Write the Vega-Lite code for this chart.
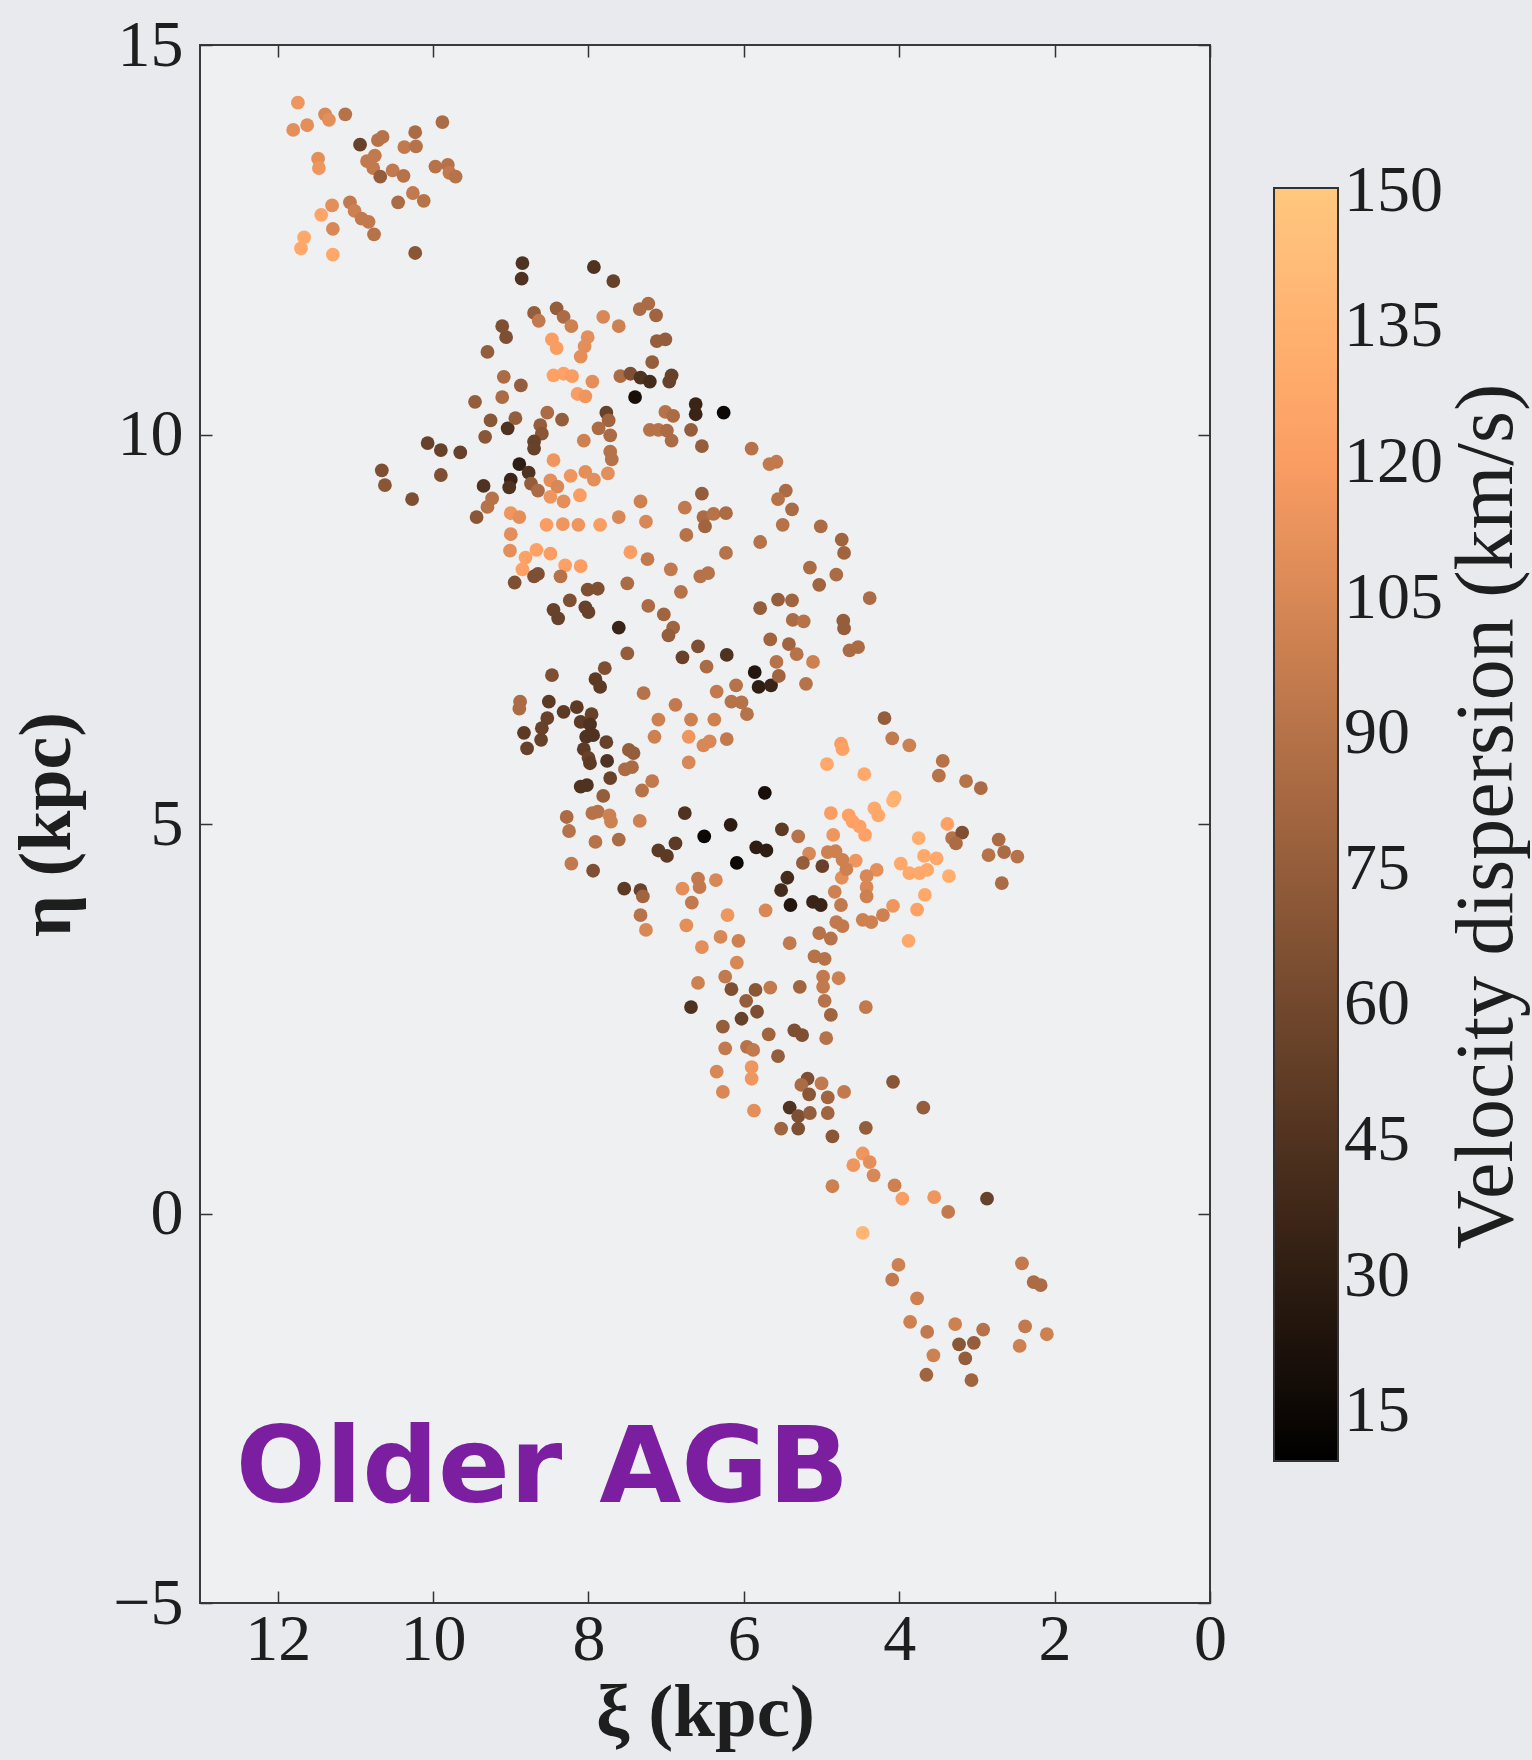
{
"$schema": "https://vega.github.io/schema/vega-lite/v6.json",
"autosize": {"type": "none"},
"padding": {"left": 200, "top": 45, "right": 322, "bottom": 157},
"width": 1010,
"height": 1558,
"background": "#e8eaed",
"config": {"view": {"fill": "#eef0f2", "stroke": "#3a3a3a", "strokeWidth": 2}, "font": "Liberation Serif"},
"datasets": {
"stars": [
{"xi":11.74,"eta":14.26,"sigma":115},{"xi":11.80,"eta":13.91,"sigma":110},{"xi":11.62,"eta":13.97,"sigma":110},{"xi":11.39,"eta":14.11,"sigma":105},{"xi":11.34,"eta":14.04,"sigma":110},{"xi":11.13,"eta":14.11,"sigma":90},{"xi":9.88,"eta":14.01,"sigma":85},{"xi":10.94,"eta":13.72,"sigma":55},{"xi":10.71,"eta":13.78,"sigma":90},{"xi":10.65,"eta":13.82,"sigma":90},{"xi":10.23,"eta":13.88,"sigma":85},{"xi":10.37,"eta":13.69,"sigma":95},{"xi":10.22,"eta":13.70,"sigma":90},{"xi":11.48,"eta":13.54,"sigma":110},{"xi":11.47,"eta":13.42,"sigma":115},{"xi":10.85,"eta":13.51,"sigma":95},{"xi":10.75,"eta":13.58,"sigma":95},{"xi":10.77,"eta":13.42,"sigma":95},{"xi":10.68,"eta":13.31,"sigma":75},{"xi":10.52,"eta":13.39,"sigma":95},{"xi":10.38,"eta":13.32,"sigma":90},{"xi":9.97,"eta":13.44,"sigma":90},{"xi":9.81,"eta":13.46,"sigma":90},{"xi":9.79,"eta":13.36,"sigma":95},{"xi":9.71,"eta":13.31,"sigma":90},{"xi":10.26,"eta":13.10,"sigma":95},{"xi":10.12,"eta":13.00,"sigma":90},{"xi":10.45,"eta":12.98,"sigma":85},{"xi":11.30,"eta":12.94,"sigma":110},{"xi":11.44,"eta":12.82,"sigma":125},{"xi":11.07,"eta":12.98,"sigma":95},{"xi":11.01,"eta":12.87,"sigma":100},{"xi":10.92,"eta":12.77,"sigma":95},{"xi":10.83,"eta":12.73,"sigma":95},{"xi":10.76,"eta":12.57,"sigma":90},{"xi":11.29,"eta":12.64,"sigma":105},{"xi":11.66,"eta":12.53,"sigma":128},{"xi":11.70,"eta":12.39,"sigma":128},{"xi":11.29,"eta":12.31,"sigma":128},{"xi":10.23,"eta":12.33,"sigma":70},
{"xi":8.85,"eta":12.20,"sigma":45},{"xi":8.86,"eta":12.00,"sigma":45},{"xi":7.93,"eta":12.15,"sigma":45},{"xi":7.68,"eta":11.97,"sigma":55},{"xi":8.70,"eta":11.56,"sigma":75},{"xi":8.64,"eta":11.46,"sigma":95},{"xi":8.41,"eta":11.62,"sigma":75},{"xi":8.32,"eta":11.51,"sigma":85},{"xi":8.22,"eta":11.39,"sigma":100},{"xi":7.81,"eta":11.51,"sigma":105},{"xi":7.61,"eta":11.39,"sigma":100},{"xi":9.11,"eta":11.39,"sigma":65},{"xi":9.06,"eta":11.25,"sigma":65},{"xi":9.30,"eta":11.06,"sigma":75},{"xi":8.47,"eta":11.22,"sigma":120},{"xi":8.41,"eta":11.11,"sigma":120},{"xi":8.01,"eta":11.25,"sigma":110},{"xi":8.05,"eta":11.13,"sigma":110},{"xi":8.10,"eta":11.00,"sigma":110},{"xi":8.45,"eta":10.76,"sigma":122},{"xi":8.32,"eta":10.78,"sigma":122},{"xi":8.21,"eta":10.75,"sigma":120},{"xi":7.95,"eta":10.68,"sigma":110},{"xi":8.14,"eta":10.52,"sigma":120},{"xi":8.04,"eta":10.49,"sigma":115},{"xi":7.59,"eta":10.75,"sigma":85},{"xi":9.09,"eta":10.74,"sigma":85},{"xi":8.87,"eta":10.63,"sigma":75},{"xi":9.11,"eta":10.48,"sigma":85},{"xi":9.46,"eta":10.42,"sigma":75},{"xi":9.26,"eta":10.18,"sigma":70},{"xi":9.04,"eta":10.08,"sigma":45},{"xi":8.94,"eta":10.21,"sigma":75},{"xi":9.33,"eta":9.97,"sigma":70},{"xi":8.53,"eta":10.28,"sigma":85},{"xi":8.34,"eta":10.19,"sigma":75},{"xi":8.62,"eta":10.12,"sigma":75},{"xi":8.60,"eta":10.01,"sigma":70},{"xi":8.70,"eta":9.91,"sigma":55},{"xi":8.70,"eta":9.82,"sigma":55},{"xi":7.77,"eta":10.28,"sigma":55},{"xi":7.74,"eta":10.18,"sigma":80},{"xi":7.87,"eta":10.08,"sigma":85},{"xi":7.72,"eta":9.99,"sigma":85},{"xi":8.06,"eta":9.92,"sigma":100},{"xi":10.07,"eta":9.89,"sigma":55},{"xi":9.90,"eta":9.80,"sigma":55},{"xi":9.65,"eta":9.77,"sigma":55},{"xi":10.66,"eta":9.54,"sigma":65},{"xi":10.62,"eta":9.35,"sigma":70},{"xi":9.90,"eta":9.48,"sigma":65},{"xi":10.27,"eta":9.17,"sigma":65},{"xi":8.89,"eta":9.62,"sigma":30},{"xi":9.00,"eta":9.42,"sigma":35},{"xi":9.02,"eta":9.32,"sigma":45},{"xi":8.77,"eta":9.51,"sigma":45},{"xi":8.74,"eta":9.37,"sigma":75},{"xi":8.65,"eta":9.28,"sigma":85},{"xi":9.35,"eta":9.34,"sigma":45},{"xi":9.24,"eta":9.18,"sigma":90},{"xi":9.30,"eta":9.07,"sigma":90},{"xi":9.44,"eta":8.94,"sigma":70},{"xi":8.45,"eta":9.67,"sigma":115},{"xi":8.49,"eta":9.41,"sigma":110},{"xi":8.40,"eta":9.33,"sigma":105},{"xi":8.49,"eta":9.20,"sigma":115},{"xi":8.32,"eta":9.14,"sigma":110},{"xi":8.23,"eta":9.47,"sigma":115},{"xi":8.04,"eta":9.52,"sigma":110},{"xi":7.93,"eta":9.42,"sigma":110},{"xi":7.75,"eta":9.50,"sigma":110},{"xi":8.11,"eta":9.22,"sigma":120},{"xi":9.00,"eta":8.99,"sigma":115},{"xi":8.89,"eta":8.94,"sigma":110},{"xi":8.54,"eta":8.84,"sigma":120},{"xi":8.33,"eta":8.85,"sigma":115},{"xi":8.13,"eta":8.84,"sigma":115},{"xi":7.85,"eta":8.84,"sigma":120},{"xi":7.61,"eta":8.94,"sigma":105},
{"xi":7.34,"eta":11.61,"sigma":85},{"xi":7.23,"eta":11.68,"sigma":85},{"xi":7.13,"eta":11.53,"sigma":80},{"xi":7.12,"eta":11.20,"sigma":75},{"xi":7.01,"eta":11.22,"sigma":75},{"xi":7.18,"eta":10.93,"sigma":75},{"xi":7.46,"eta":10.78,"sigma":65},{"xi":7.33,"eta":10.73,"sigma":45},{"xi":7.21,"eta":10.68,"sigma":40},{"xi":6.93,"eta":10.76,"sigma":55},{"xi":6.96,"eta":10.68,"sigma":55},{"xi":7.40,"eta":10.48,"sigma":20},{"xi":6.62,"eta":10.39,"sigma":35},{"xi":6.62,"eta":10.26,"sigma":35},{"xi":6.26,"eta":10.28,"sigma":15},{"xi":7.01,"eta":10.29,"sigma":90},{"xi":6.91,"eta":10.24,"sigma":85},{"xi":7.21,"eta":10.06,"sigma":90},{"xi":7.10,"eta":10.06,"sigma":90},{"xi":6.99,"eta":10.05,"sigma":85},{"xi":6.68,"eta":10.06,"sigma":75},{"xi":6.93,"eta":9.92,"sigma":85},{"xi":6.54,"eta":9.85,"sigma":75},{"xi":7.72,"eta":9.78,"sigma":90},{"xi":7.70,"eta":9.68,"sigma":90},{"xi":5.90,"eta":9.82,"sigma":90},{"xi":5.67,"eta":9.62,"sigma":95},{"xi":5.58,"eta":9.65,"sigma":95},{"xi":6.54,"eta":9.24,"sigma":75},{"xi":7.33,"eta":9.14,"sigma":100},{"xi":6.76,"eta":9.06,"sigma":95},{"xi":7.26,"eta":8.88,"sigma":105},{"xi":6.52,"eta":8.94,"sigma":85},{"xi":6.39,"eta":8.98,"sigma":90},{"xi":6.23,"eta":8.99,"sigma":85},{"xi":6.50,"eta":8.82,"sigma":80},{"xi":5.46,"eta":9.28,"sigma":85},{"xi":5.56,"eta":9.17,"sigma":90},{"xi":5.38,"eta":9.04,"sigma":85},{"xi":5.50,"eta":8.84,"sigma":90},{"xi":5.01,"eta":8.82,"sigma":85},
{"xi":9.00,"eta":8.72,"sigma":110},{"xi":9.01,"eta":8.51,"sigma":110},{"xi":8.81,"eta":8.42,"sigma":122},{"xi":8.67,"eta":8.52,"sigma":122},{"xi":8.85,"eta":8.27,"sigma":122},{"xi":8.49,"eta":8.47,"sigma":120},{"xi":8.30,"eta":8.32,"sigma":122},{"xi":8.10,"eta":8.31,"sigma":120},{"xi":8.36,"eta":8.18,"sigma":90},{"xi":8.95,"eta":8.10,"sigma":65},{"xi":8.70,"eta":8.18,"sigma":65},{"xi":8.65,"eta":8.21,"sigma":65},{"xi":8.01,"eta":8.01,"sigma":65},{"xi":7.88,"eta":8.02,"sigma":65},{"xi":8.24,"eta":7.87,"sigma":65},{"xi":8.45,"eta":7.75,"sigma":55},{"xi":8.39,"eta":7.64,"sigma":55},{"xi":8.04,"eta":7.78,"sigma":55},{"xi":8.00,"eta":7.72,"sigma":55},{"xi":7.50,"eta":8.09,"sigma":85},{"xi":7.46,"eta":8.49,"sigma":120},{"xi":7.24,"eta":8.40,"sigma":95},{"xi":6.94,"eta":8.27,"sigma":95},{"xi":6.74,"eta":8.71,"sigma":90},{"xi":6.56,"eta":8.18,"sigma":90},{"xi":6.46,"eta":8.22,"sigma":90},{"xi":6.81,"eta":7.98,"sigma":90},{"xi":7.61,"eta":7.52,"sigma":35},{"xi":7.23,"eta":7.80,"sigma":85},{"xi":7.03,"eta":7.69,"sigma":80},{"xi":6.91,"eta":7.52,"sigma":80},{"xi":6.97,"eta":7.42,"sigma":75},{"xi":6.59,"eta":7.28,"sigma":65},{"xi":6.79,"eta":7.14,"sigma":55},{"xi":6.48,"eta":7.02,"sigma":85},{"xi":7.50,"eta":7.19,"sigma":75},{"xi":7.79,"eta":7.00,"sigma":65},{"xi":7.91,"eta":6.86,"sigma":50},{"xi":7.85,"eta":6.76,"sigma":50},{"xi":8.47,"eta":6.91,"sigma":65},{"xi":7.29,"eta":6.68,"sigma":90},{"xi":6.88,"eta":6.53,"sigma":95},{"xi":6.35,"eta":6.70,"sigma":95},{"xi":8.88,"eta":6.57,"sigma":85},{"xi":8.89,"eta":6.48,"sigma":85},{"xi":8.51,"eta":6.57,"sigma":50},{"xi":8.32,"eta":6.44,"sigma":50},{"xi":8.15,"eta":6.50,"sigma":50},{"xi":8.53,"eta":6.36,"sigma":55},{"xi":8.60,"eta":6.23,"sigma":55},{"xi":8.83,"eta":6.17,"sigma":50},{"xi":8.79,"eta":5.97,"sigma":55},{"xi":8.61,"eta":6.08,"sigma":55},{"xi":8.10,"eta":6.31,"sigma":50},{"xi":7.96,"eta":6.41,"sigma":55},{"xi":7.98,"eta":6.28,"sigma":45},{"xi":8.03,"eta":6.12,"sigma":45},{"xi":7.94,"eta":6.14,"sigma":45},{"xi":7.77,"eta":6.05,"sigma":55},{"xi":8.06,"eta":5.96,"sigma":50},{"xi":8.00,"eta":5.85,"sigma":55},{"xi":7.98,"eta":5.78,"sigma":50},{"xi":7.76,"eta":5.81,"sigma":45},{"xi":7.48,"eta":5.95,"sigma":75},{"xi":7.42,"eta":5.91,"sigma":75},{"xi":7.53,"eta":5.70,"sigma":85},{"xi":7.44,"eta":5.73,"sigma":85},{"xi":7.72,"eta":5.59,"sigma":55},{"xi":8.10,"eta":5.48,"sigma":45},{"xi":8.02,"eta":5.50,"sigma":45},{"xi":7.81,"eta":5.36,"sigma":75},{"xi":7.31,"eta":5.43,"sigma":90},{"xi":7.18,"eta":5.55,"sigma":95},{"xi":7.10,"eta":6.34,"sigma":100},{"xi":7.15,"eta":6.12,"sigma":100},{"xi":6.68,"eta":6.34,"sigma":100},{"xi":6.71,"eta":6.12,"sigma":115},{"xi":6.38,"eta":6.34,"sigma":100},{"xi":6.52,"eta":6.01,"sigma":105},{"xi":6.44,"eta":6.06,"sigma":105},{"xi":6.71,"eta":5.79,"sigma":105},
{"xi":5.79,"eta":8.62,"sigma":90},{"xi":6.23,"eta":8.48,"sigma":90},{"xi":4.74,"eta":8.65,"sigma":80},{"xi":4.71,"eta":8.48,"sigma":80},{"xi":5.15,"eta":8.29,"sigma":85},{"xi":4.81,"eta":8.20,"sigma":85},{"xi":5.03,"eta":8.07,"sigma":80},{"xi":5.56,"eta":7.88,"sigma":75},{"xi":5.38,"eta":7.87,"sigma":80},{"xi":5.79,"eta":7.77,"sigma":75},{"xi":4.38,"eta":7.90,"sigma":85},{"xi":5.37,"eta":7.62,"sigma":85},{"xi":5.23,"eta":7.60,"sigma":90},{"xi":4.72,"eta":7.61,"sigma":75},{"xi":4.71,"eta":7.51,"sigma":75},{"xi":5.66,"eta":7.37,"sigma":80},{"xi":5.42,"eta":7.31,"sigma":80},{"xi":5.32,"eta":7.18,"sigma":90},{"xi":4.64,"eta":7.23,"sigma":85},{"xi":4.53,"eta":7.27,"sigma":85},{"xi":6.22,"eta":7.17,"sigma":45},{"xi":5.58,"eta":7.08,"sigma":90},{"xi":5.11,"eta":7.08,"sigma":100},{"xi":5.86,"eta":6.95,"sigma":25},{"xi":5.81,"eta":6.76,"sigma":30},{"xi":5.65,"eta":6.78,"sigma":35},{"xi":5.55,"eta":6.90,"sigma":80},{"xi":5.20,"eta":6.80,"sigma":90},{"xi":6.10,"eta":6.78,"sigma":90},{"xi":6.16,"eta":6.57,"sigma":90},{"xi":6.03,"eta":6.56,"sigma":90},{"xi":5.96,"eta":6.41,"sigma":90},{"xi":6.22,"eta":6.09,"sigma":95},{"xi":4.19,"eta":6.36,"sigma":75},{"xi":4.09,"eta":6.10,"sigma":95},{"xi":3.87,"eta":6.01,"sigma":100},{"xi":4.75,"eta":6.03,"sigma":120},{"xi":4.73,"eta":5.96,"sigma":122},{"xi":4.93,"eta":5.77,"sigma":128},{"xi":4.45,"eta":5.64,"sigma":128},{"xi":3.44,"eta":5.81,"sigma":90},{"xi":3.49,"eta":5.62,"sigma":90},{"xi":3.14,"eta":5.55,"sigma":90},{"xi":2.95,"eta":5.46,"sigma":85},{"xi":5.73,"eta":5.40,"sigma":20},{"xi":4.06,"eta":5.34,"sigma":132},
{"xi":8.28,"eta":5.09,"sigma":85},{"xi":8.25,"eta":4.91,"sigma":90},{"xi":7.95,"eta":5.14,"sigma":90},{"xi":7.88,"eta":5.16,"sigma":90},{"xi":7.73,"eta":5.11,"sigma":100},{"xi":7.71,"eta":5.03,"sigma":100},{"xi":7.34,"eta":5.04,"sigma":100},{"xi":7.91,"eta":4.77,"sigma":90},{"xi":7.61,"eta":4.80,"sigma":85},{"xi":8.22,"eta":4.49,"sigma":95},{"xi":7.94,"eta":4.40,"sigma":65},{"xi":6.76,"eta":5.14,"sigma":45},{"xi":7.10,"eta":4.66,"sigma":50},{"xi":6.99,"eta":4.59,"sigma":50},{"xi":6.88,"eta":4.75,"sigma":50},{"xi":6.51,"eta":4.84,"sigma":15},{"xi":6.17,"eta":4.99,"sigma":30},{"xi":6.09,"eta":4.50,"sigma":15},{"xi":5.84,"eta":4.70,"sigma":30},{"xi":5.71,"eta":4.66,"sigma":30},{"xi":7.54,"eta":4.17,"sigma":50},{"xi":7.33,"eta":4.15,"sigma":55},{"xi":7.30,"eta":4.07,"sigma":80},{"xi":7.33,"eta":3.83,"sigma":90},{"xi":7.26,"eta":3.64,"sigma":105},{"xi":6.79,"eta":4.17,"sigma":110},{"xi":6.59,"eta":4.30,"sigma":95},{"xi":6.57,"eta":4.19,"sigma":95},{"xi":6.36,"eta":4.28,"sigma":105},{"xi":6.67,"eta":3.99,"sigma":95},{"xi":6.74,"eta":3.70,"sigma":110},{"xi":6.21,"eta":3.83,"sigma":115},{"xi":5.72,"eta":3.89,"sigma":105},{"xi":6.30,"eta":3.55,"sigma":105},{"xi":6.07,"eta":3.50,"sigma":100},{"xi":6.54,"eta":3.42,"sigma":110},{"xi":6.09,"eta":3.22,"sigma":105},{"xi":6.24,"eta":3.04,"sigma":95},{"xi":6.16,"eta":2.88,"sigma":65},{"xi":6.59,"eta":2.96,"sigma":100},{"xi":6.68,"eta":2.65,"sigma":45},{"xi":5.97,"eta":2.73,"sigma":75},{"xi":5.85,"eta":2.87,"sigma":70},{"xi":5.66,"eta":2.90,"sigma":95},{"xi":5.83,"eta":2.59,"sigma":65},{"xi":6.03,"eta":2.50,"sigma":55},
{"xi":5.51,"eta":4.93,"sigma":50},{"xi":5.30,"eta":4.84,"sigma":90},{"xi":4.88,"eta":5.14,"sigma":120},{"xi":4.65,"eta":5.11,"sigma":122},{"xi":4.60,"eta":5.03,"sigma":122},{"xi":4.32,"eta":5.20,"sigma":128},{"xi":4.27,"eta":5.11,"sigma":128},{"xi":4.08,"eta":5.30,"sigma":136},{"xi":4.51,"eta":4.97,"sigma":122},{"xi":4.44,"eta":4.86,"sigma":122},{"xi":4.85,"eta":4.86,"sigma":115},{"xi":5.16,"eta":4.62,"sigma":105},{"xi":5.24,"eta":4.50,"sigma":75},{"xi":4.99,"eta":4.46,"sigma":55},{"xi":4.92,"eta":4.64,"sigma":100},{"xi":4.82,"eta":4.65,"sigma":100},{"xi":4.73,"eta":4.54,"sigma":100},{"xi":4.56,"eta":4.53,"sigma":115},{"xi":4.74,"eta":4.31,"sigma":110},{"xi":4.68,"eta":4.42,"sigma":100},{"xi":4.29,"eta":4.41,"sigma":110},{"xi":4.42,"eta":4.33,"sigma":105},{"xi":4.42,"eta":4.19,"sigma":105},{"xi":4.42,"eta":4.07,"sigma":100},{"xi":3.98,"eta":4.49,"sigma":128},{"xi":3.87,"eta":4.37,"sigma":128},{"xi":3.74,"eta":4.37,"sigma":128},{"xi":3.64,"eta":4.41,"sigma":128},{"xi":3.68,"eta":4.59,"sigma":128},{"xi":3.52,"eta":4.56,"sigma":128},{"xi":3.36,"eta":4.33,"sigma":132},{"xi":3.75,"eta":4.82,"sigma":132},{"xi":3.38,"eta":5.00,"sigma":122},{"xi":3.32,"eta":4.82,"sigma":90},{"xi":3.19,"eta":4.89,"sigma":65},{"xi":3.27,"eta":4.75,"sigma":85},{"xi":2.72,"eta":4.80,"sigma":85},{"xi":2.85,"eta":4.60,"sigma":90},{"xi":2.65,"eta":4.64,"sigma":85},{"xi":2.48,"eta":4.58,"sigma":90},{"xi":2.68,"eta":4.24,"sigma":85},{"xi":3.67,"eta":4.09,"sigma":128},{"xi":3.77,"eta":3.90,"sigma":122},{"xi":4.08,"eta":3.95,"sigma":115},{"xi":4.21,"eta":3.83,"sigma":100},{"xi":4.47,"eta":3.77,"sigma":100},{"xi":4.36,"eta":3.74,"sigma":100},{"xi":4.83,"eta":4.13,"sigma":100},{"xi":4.75,"eta":3.96,"sigma":95},{"xi":4.81,"eta":3.74,"sigma":95},{"xi":4.73,"eta":3.69,"sigma":95},{"xi":5.44,"eta":4.31,"sigma":40},{"xi":5.52,"eta":4.15,"sigma":40},{"xi":5.40,"eta":3.96,"sigma":25},{"xi":5.11,"eta":4.00,"sigma":35},{"xi":5.01,"eta":3.96,"sigma":35},{"xi":5.03,"eta":3.60,"sigma":90},{"xi":4.88,"eta":3.53,"sigma":90},{"xi":5.41,"eta":3.47,"sigma":95},{"xi":3.88,"eta":3.50,"sigma":128},{"xi":5.09,"eta":3.30,"sigma":90},{"xi":4.96,"eta":3.27,"sigma":90},{"xi":4.98,"eta":3.04,"sigma":95},{"xi":4.98,"eta":2.91,"sigma":95},{"xi":4.78,"eta":3.02,"sigma":100},{"xi":5.28,"eta":2.91,"sigma":80},{"xi":4.96,"eta":2.73,"sigma":90},{"xi":4.43,"eta":2.65,"sigma":95},{"xi":4.88,"eta":2.55,"sigma":80},
{"xi":6.27,"eta":2.40,"sigma":75},{"xi":5.68,"eta":2.30,"sigma":80},{"xi":5.35,"eta":2.35,"sigma":65},{"xi":5.25,"eta":2.29,"sigma":65},{"xi":4.94,"eta":2.25,"sigma":90},{"xi":6.24,"eta":2.12,"sigma":95},{"xi":5.96,"eta":2.14,"sigma":90},{"xi":5.88,"eta":2.10,"sigma":95},{"xi":5.56,"eta":2.02,"sigma":75},{"xi":6.35,"eta":1.82,"sigma":105},{"xi":5.90,"eta":1.88,"sigma":115},{"xi":5.90,"eta":1.73,"sigma":115},{"xi":6.27,"eta":1.56,"sigma":105},{"xi":5.87,"eta":1.32,"sigma":110},{"xi":5.18,"eta":1.73,"sigma":65},{"xi":5.26,"eta":1.65,"sigma":85},{"xi":5.16,"eta":1.53,"sigma":70},{"xi":5.00,"eta":1.67,"sigma":95},{"xi":4.92,"eta":1.49,"sigma":80},{"xi":4.71,"eta":1.56,"sigma":95},{"xi":5.41,"eta":1.36,"sigma":45},{"xi":5.30,"eta":1.25,"sigma":65},{"xi":5.15,"eta":1.29,"sigma":75},{"xi":4.92,"eta":1.29,"sigma":80},{"xi":5.52,"eta":1.09,"sigma":80},{"xi":5.30,"eta":1.09,"sigma":65},{"xi":4.86,"eta":0.99,"sigma":70},{"xi":4.43,"eta":1.10,"sigma":75},{"xi":4.08,"eta":1.69,"sigma":70},{"xi":3.69,"eta":1.36,"sigma":75},{"xi":4.47,"eta":0.77,"sigma":115},{"xi":4.38,"eta":0.66,"sigma":110},{"xi":4.33,"eta":0.49,"sigma":105},{"xi":4.59,"eta":0.62,"sigma":115},{"xi":4.86,"eta":0.35,"sigma":100},{"xi":4.06,"eta":0.36,"sigma":100},{"xi":3.96,"eta":0.19,"sigma":120},{"xi":3.55,"eta":0.21,"sigma":115},
{"xi":2.87,"eta":0.19,"sigma":55},{"xi":3.37,"eta":0.02,"sigma":95},{"xi":4.47,"eta":-0.25,"sigma":138},{"xi":4.01,"eta":-0.66,"sigma":100},{"xi":4.09,"eta":-0.85,"sigma":95},{"xi":3.77,"eta":-1.09,"sigma":100},{"xi":3.86,"eta":-1.39,"sigma":100},{"xi":3.64,"eta":-1.52,"sigma":95},{"xi":3.28,"eta":-1.42,"sigma":100},{"xi":2.92,"eta":-1.49,"sigma":90},{"xi":3.23,"eta":-1.68,"sigma":70},{"xi":3.04,"eta":-1.66,"sigma":75},{"xi":3.15,"eta":-1.86,"sigma":75},{"xi":3.56,"eta":-1.82,"sigma":100},{"xi":3.65,"eta":-2.07,"sigma":80},{"xi":3.07,"eta":-2.14,"sigma":80},{"xi":2.42,"eta":-0.64,"sigma":95},{"xi":2.27,"eta":-0.88,"sigma":85},{"xi":2.18,"eta":-0.92,"sigma":85},{"xi":2.38,"eta":-1.45,"sigma":95},{"xi":2.10,"eta":-1.55,"sigma":100},{"xi":2.45,"eta":-1.70,"sigma":100}
],
"label": [{"text": "Older AGB", "xi": 12.54, "eta": -3.70}]
},
"layer": [
{
"data": {"name": "stars"},
"mark": {"type": "circle", "size": 190, "opacity": 1},
"encoding": {
"x": {"field": "xi", "type": "quantitative", "scale": {"domain": [0, 13], "reverse": true, "nice": false, "zero": false},
"axis": {"orient": "bottom", "values": [0, 2, 4, 6, 8, 10, 12], "format": "d", "grid": false, "domain": false, "ticks": true, "tickSize": -12, "tickWidth": 1.5, "tickColor": "#333", "labelFlush": false, "labelOverlap": false, "labelFont": "Liberation Serif", "labelFontSize": 66, "labelColor": "#1e1e1e", "labelPadding": 16, "title": "ξ (kpc)", "titleFont": "Liberation Serif", "titleFontSize": 75, "titleFontWeight": "bold", "titleColor": "#1e1e1e", "titlePadding": 4}},
"y": {"field": "eta", "type": "quantitative", "scale": {"domain": [-5, 15], "nice": false, "zero": false},
"axis": {"orient": "left", "values": [-5, 0, 5, 10, 15], "format": "d", "grid": false, "domain": false, "ticks": true, "tickSize": -12, "tickWidth": 1.5, "tickColor": "#333", "labelFlush": false, "labelOverlap": false, "labelFont": "Liberation Serif", "labelFontSize": 66, "labelColor": "#1e1e1e", "labelPadding": 29, "title": "η (kpc)", "titleFont": "Liberation Serif", "titleFontSize": 74, "titleFontWeight": "bold", "titleColor": "#1e1e1e", "titlePadding": 27}},
"color": {"field": "sigma", "type": "quantitative",
"scale": {"domain": [9.5, 122.1, 150.3], "range": ["#000000", "#ffa065", "#ffc77f"], "interpolate": "rgb"},
"legend": {"orient": "none", "legendX": 1074, "legendY": 143, "direction": "vertical", "gradientLength": 1273, "gradientThickness": 64, "gradientStrokeColor": "#333", "gradientStrokeWidth": 2, "values": [15, 30, 45, 60, 75, 90, 105, 120, 135, 150], "labelFont": "Liberation Serif", "labelFontSize": 66, "labelColor": "#1e1e1e", "labelOffset": 6, "labelOverlap": false, "labelBaseline": "middle", "title": null}}
}
},
{
"data": {"name": "stars"},
"mark": {"type": "circle", "opacity": 0},
"encoding": {
"x": {"field": "xi", "type": "quantitative", "scale": {"domain": [0, 13], "reverse": true, "nice": false, "zero": false},
"axis": {"orient": "top", "values": [0, 2, 4, 6, 8, 10, 12], "labels": false, "grid": false, "domain": false, "tickSize": -12, "tickWidth": 1.5, "tickColor": "#333", "title": null}},
"y": {"field": "eta", "type": "quantitative", "scale": {"domain": [-5, 15], "nice": false, "zero": false},
"axis": {"orient": "right", "values": [-5, 0, 5, 10, 15], "labels": false, "grid": false, "domain": false, "tickSize": -12, "tickWidth": 1.5, "tickColor": "#333", "title": "Velocity dispersion (km/s)", "titleAngle": -90, "titleBaseline": "top", "titleAlign": "center", "titleY": 771, "titleFont": "Liberation Serif", "titleFontSize": 82, "titleFontWeight": "normal", "titleColor": "#1e1e1e", "titlePadding": 236, "titleLimit": 2000}}
}
},
{
"data": {"name": "label"},
"mark": {"type": "text", "font": "DejaVu Sans", "fontWeight": "bold", "fontSize": 106, "color": "#7b1fa0", "align": "left", "baseline": "alphabetic"},
"encoding": {
"x": {"field": "xi", "type": "quantitative", "axis": null},
"y": {"field": "eta", "type": "quantitative", "axis": null},
"text": {"field": "text"}
}
}
],
"resolve": {"axis": {"x": "independent", "y": "independent"}}
}
